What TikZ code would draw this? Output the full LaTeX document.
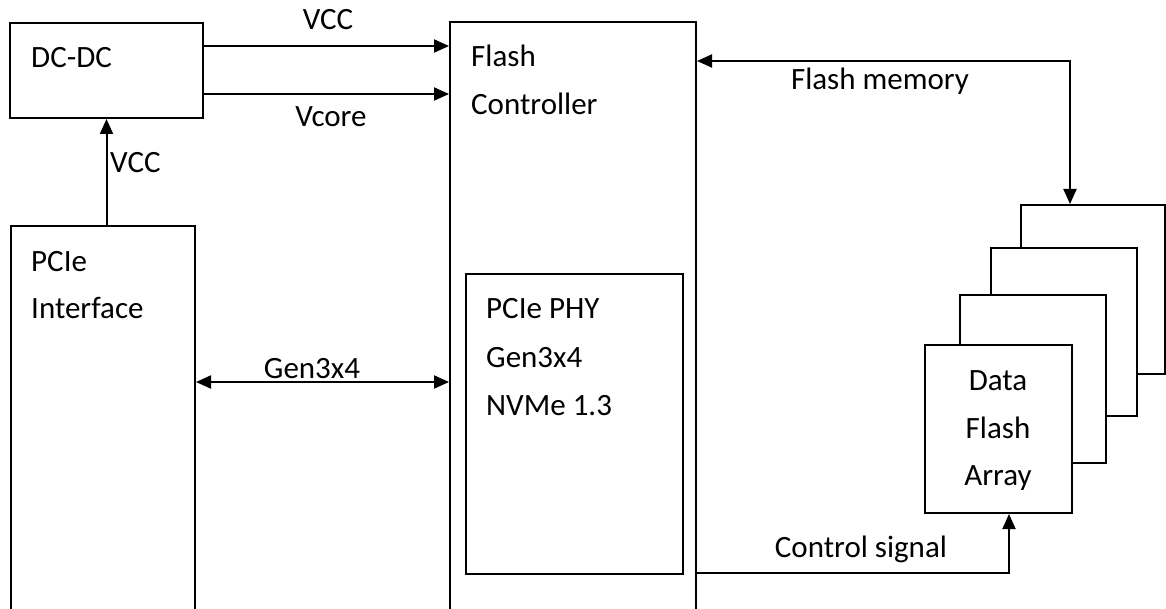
\documentclass[tikz,border=0pt]{standalone}
\usepackage{fontspec}
\setmainfont{Carlito}
\usetikzlibrary{arrows.meta}
\begin{document}
\begin{tikzpicture}[x=1pt,y=-1pt,
  box/.style={draw, line width=2pt, fill=white, inner sep=0pt, anchor=north west},
  tip/.tip={Triangle[length=15pt,width=13pt]},
  conn/.style={line width=2pt, -tip},
  conntwo/.style={line width=2pt, tip-tip},
  txt/.style={font=\fontsize{31}{37}\selectfont, inner sep=0pt, anchor=base west},
  ctxt/.style={font=\fontsize{31}{37}\selectfont, inner sep=0pt, anchor=base}]
\useasboundingbox (0,0) rectangle (1166,609);

% boxes
\node[box, minimum width=193pt, minimum height=95pt] (dcdc) at (9,22) {};
\node[box, minimum width=184pt, minimum height=386pt] (pcie) at (10,225) {};
\node[box, minimum width=246pt, minimum height=590pt] (ctrl) at (449,21) {};
\node[box, minimum width=217pt, minimum height=300pt] (phy) at (465,273) {};
\node[box, minimum width=144pt, minimum height=169pt] (back) at (1020,204) {};
\node[box, minimum width=146pt, minimum height=168pt] (third) at (990,247) {};
\node[box, minimum width=146pt, minimum height=168pt] (second) at (959,294) {};
\node[box, minimum width=147pt, minimum height=168pt] (front) at (924,344) {};

% routing coordinates
\coordinate (rvcc) at (0,46);
\coordinate (rvcore) at (0,94);
\coordinate (rgen) at (0,382);
\coordinate (fm) at (1070,61);
\coordinate (cs) at (1009,573);

% connectors
\draw[conn] (dcdc.east |- rvcc) -- (ctrl.west |- rvcc);
\draw[conn] (dcdc.east |- rvcore) -- (ctrl.west |- rvcore);
\draw[conn] (dcdc.south |- pcie.north) -- (dcdc.south);
\draw[conntwo] (pcie.east |- rgen) -- (ctrl.west |- rgen);
\draw[conntwo] (ctrl.east |- fm) -- (fm) -- (back.north -| fm);
\draw[conn] (ctrl.east |- cs) -- (cs) -- (front.south -| cs);

% texts
\node[txt] (tdcdc) at (31,68) {DC-DC};
\node[ctxt] (tvcc) at (328,30) {VCC};
\node[ctxt] (tvcore) at (331,127) {Vcore};
\node[txt] (tvccup) at (110,173) {VCC};
\node[txt] (tpcie) at (31,272) {PCIe};
\node[txt] (tinterface) at (31,319) {Interface};
\node[ctxt] (tgen) at (312,378) {Gen3x4};
\node[txt] (tflash) at (471,67) {Flash};
\node[txt] (tcontroller) at (471,115) {Controller};
\node[ctxt] (tfm) at (880,90) {Flash memory};
\node[txt] (tphy) at (486,319) {PCIe PHY};
\node[txt] (tphygen) at (486,367) {Gen3x4};
\node[txt] (tnvme) at (486,415) {NVMe 1.3};
\node[ctxt] (tdata) at (998,390) {Data};
\node[ctxt] (tdflash) at (998,438) {Flash};
\node[ctxt] (tarray) at (998,485) {Array};
\node[ctxt] (tcs) at (861,557) {Control signal};
\end{tikzpicture}
\end{document}
